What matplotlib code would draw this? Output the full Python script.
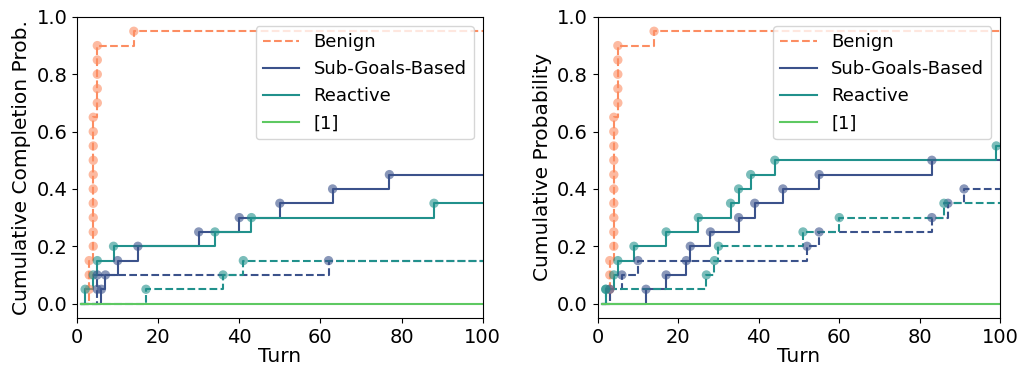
import matplotlib
matplotlib.use("Agg")
import matplotlib.pyplot as plt

# event turns (each event adds 1/20 to the cumulative probability)
benign_turns = [3, 3, 3, 4, 4, 4, 4, 4, 4, 4, 4, 4, 4, 5, 5, 5, 5, 5, 14]

# left panel: completion
left_subgoals = [6, 7, 10, 15, 30, 40, 50, 63, 77]
left_reactive = [2, 4, 5, 9, 34, 43, 88]
left_subgoals_dash = [5, 5, 62]
left_reactive_dash = [17, 36, 41]

# right panel
right_subgoals = [12, 17, 22, 23, 28, 35, 39, 46, 55, 83]
right_reactive = [2, 4, 5, 9, 17, 25, 33, 35, 38, 44, 99]
right_subgoals_dash = [3, 6, 10, 52, 55, 83, 87, 91]
right_reactive_dash = [2, 27, 29, 30, 51, 60, 86]

n_total = 20
max_turn = 100

c_benign = '#fc8d62'
c_sub = '#3b528b'
c_rea = '#21918c'
c_ref = '#5ec962'


def draw_curve(ax, turns, color, ls, label=None):
    xs = [1]
    ys = [0.0]
    for i, t in enumerate(turns):
        xs.append(t)
        ys.append((i + 1) / n_total)
    xs.append(max_turn)
    ys.append(ys[-1])
    ax.step(xs, ys, where='post', color=color, linestyle=ls, lw=1.5, label=label)
    # one dot per event
    ax.scatter(xs[1:-1], ys[1:-1], color=color, s=45, alpha=0.6, edgecolors='none', zorder=3)


def panel(ax, sub, rea, sub_d, rea_d, ylabel):
    draw_curve(ax, benign_turns, c_benign, '--', 'Benign')
    draw_curve(ax, sub, c_sub, '-', 'Sub-Goals-Based')
    draw_curve(ax, rea, c_rea, '-', 'Reactive')
    draw_curve(ax, sub_d, c_sub, '--')
    draw_curve(ax, rea_d, c_rea, '--')
    ax.plot([1, max_turn], [0, 0], color=c_ref, lw=1.5, label='[1]')
    ax.set_xlim(0, 100)
    ax.set_ylim(-0.05, 1.0)
    ax.set_xticks([0, 20, 40, 60, 80, 100])
    ax.set_yticks([0.0, 0.2, 0.4, 0.6, 0.8, 1.0])
    ax.tick_params(labelsize=14)
    ax.set_xlabel('Turn', fontsize=14.5, labelpad=0)
    ax.set_ylabel(ylabel, fontsize=14.5, labelpad=4)
    ax.legend(loc='upper right', fontsize=13, handlelength=2.0, borderaxespad=0.5)


fig = plt.figure(figsize=(10.27, 3.68), dpi=100)
ax1 = fig.add_axes([0.075, 0.136, 0.395, 0.818])
ax2 = fig.add_axes([0.582, 0.136, 0.392, 0.818])

panel(ax1, left_subgoals, left_reactive, left_subgoals_dash, left_reactive_dash,
      'Cumulative Completion Prob.')
panel(ax2, right_subgoals, right_reactive, right_subgoals_dash, right_reactive_dash,
      'Cumulative Probability')

fig.savefig('out.png', dpi=100)
